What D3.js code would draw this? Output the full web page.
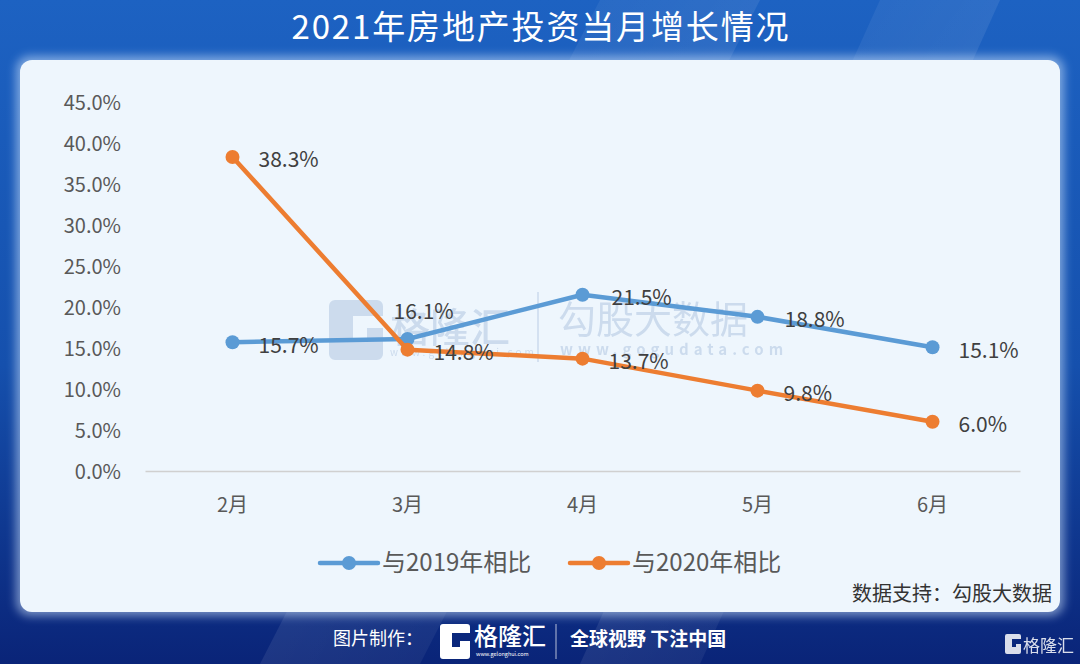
<!DOCTYPE html>
<html><head><meta charset="utf-8">
<script src="https://cdn.jsdelivr.net/npm/d3@7"></script>
<style>
html,body{margin:0;padding:0;background:#0d2f86;}
svg{display:block;font-family:"Noto Sans CJK SC","Noto Sans",sans-serif;}
</style></head>
<body>
<svg id="c" width="1080" height="664"></svg>
<script>
const titleText = "2021年房地产投资当月增长情况";
const categories = ["2月","3月","4月","5月","6月"];
const seriesNames = ["与2019年相比","与2020年相比"];
const values2019 = [15.7,16.1,21.5,18.8,15.1];
const values2020 = [38.3,14.8,13.7,9.8,6.0];
const yTicks = [0,5,10,15,20,25,30,35,40,45];
const sourceText = "数据支持：勾股大数据";

const colors = ["#5b9bd5","#ed7d31"];
// label placement per point: [dx, dy]
const labelOffsets = [
  [[26,3],[-14,-27],[29,3],[27,3],[26,3]],
  [[26,3],[26,3],[26,3],[26,3],[26,3]]
];

const svg = d3.select("#c");
const defs = svg.append("defs");
const bg = defs.append("linearGradient").attr("id","bg").attr("x1",0).attr("y1",0).attr("x2",0).attr("y2",1);
bg.append("stop").attr("offset","0%").attr("stop-color","#1d62c2");
bg.append("stop").attr("offset","55%").attr("stop-color","#1550ad");
bg.append("stop").attr("offset","100%").attr("stop-color","#0a2478");
const streak = defs.append("linearGradient").attr("id","streak").attr("x1",0).attr("y1",0).attr("x2",1).attr("y2",1);
streak.append("stop").attr("offset","0%").attr("stop-color","#ffffff").attr("stop-opacity",0);
streak.append("stop").attr("offset","50%").attr("stop-color","#ffffff").attr("stop-opacity",0.08);
streak.append("stop").attr("offset","100%").attr("stop-color","#ffffff").attr("stop-opacity",0);
const glow = defs.append("filter").attr("id","glow").attr("x","-5%").attr("y","-5%").attr("width","110%").attr("height","110%");
glow.append("feGaussianBlur").attr("stdDeviation",5);

svg.append("rect").attr("width",1080).attr("height",664).attr("fill","url(#bg)");
svg.append("path").attr("d","M600,0 L760,0 L420,664 L260,664 Z").attr("fill","url(#streak)");
svg.append("path").attr("d","M880,0 L1000,0 L700,664 L580,664 Z").attr("fill","url(#streak)");

// panel
svg.append("rect").attr("x",16).attr("y",56).attr("width",1048).attr("height",560).attr("rx",14)
  .attr("fill","#cfe3fb").attr("opacity",0.55).attr("filter","url(#glow)");
svg.append("rect").attr("x",20).attr("y",60).attr("width",1040).attr("height",552).attr("rx",12)
  .attr("fill","#eef6fd");

// title
svg.append("text").attr("x",540).attr("y",39).attr("text-anchor","middle")
  .attr("fill","#ffffff").attr("font-size",33).attr("font-weight",400)
  .attr("textLength",497).attr("lengthAdjust","spacing")
  .text(titleText);

// watermark
const wm = svg.append("g").attr("opacity",0.9);
const wc = "#c9d9ec";
wm.append("path").attr("fill",wc).attr("fill-rule","evenodd")
  .attr("d","M335,300 h42 a6,6 0 0 1 6,6 v10 h-30 v22 h14 v-10 h16 v26 a6,6 0 0 1 -6,6 h-42 a6,6 0 0 1 -6,-6 v-48 a6,6 0 0 1 6,-6 z");
wm.append("text").attr("x",390).attr("y",342).attr("fill",wc).attr("font-size",40).attr("font-weight",500).text("格隆汇");
wm.append("text").attr("x",390).attr("y",356).attr("fill",wc).attr("font-size",10).attr("letter-spacing",3).text("www.gelonghui.com");
wm.append("line").attr("x1",538).attr("x2",538).attr("y1",292).attr("y2",362).attr("stroke",wc).attr("stroke-width",1.5);
wm.append("text").attr("x",558).attr("y",333).attr("fill",wc).attr("font-size",38).text("勾股大数据");
wm.append("text").attr("x",560).attr("y",355).attr("fill",wc).attr("font-size",15).attr("font-weight",700).attr("letter-spacing",5).text("www.gogudata.com");

// scales
const x = d3.scaleBand().domain(categories).range([145,1020]);
const y = d3.scaleLinear().domain([0,45]).range([471,102]);
const cx = d => x(d) + x.bandwidth()/2;

// y axis labels
const yAxis = d3.axisLeft(y).tickValues(yTicks).tickSize(0).tickPadding(0).tickFormat(d => d.toFixed(1)+"%");
const gy = svg.append("g").attr("transform","translate(121,0)").call(yAxis);
gy.select(".domain").remove();
gy.selectAll("text").attr("fill","#595959").attr("font-size",20).attr("font-family","Noto Sans CJK SC").attr("dy","0.35em");

// x axis
const xAxis = d3.axisBottom(x).tickSize(0).tickPadding(23);
const gx = svg.append("g").attr("transform","translate(0,471)").call(xAxis);
gx.select(".domain").attr("stroke","#d0d0d0").attr("stroke-width",1.5);
gx.selectAll("text").attr("fill","#595959").attr("font-size",20).attr("font-family","Noto Sans CJK SC").attr("dy","0.9em");

// series
const allSeries = [values2019, values2020];
const line = d3.line().x((d,i) => cx(categories[i])).y(d => y(d));
allSeries.forEach((vals,si) => {
  const g = svg.append("g");
  g.append("path").datum(vals).attr("d",line).attr("fill","none")
    .attr("stroke",colors[si]).attr("stroke-width",4.5).attr("stroke-linejoin","round").attr("stroke-linecap","round");
  g.selectAll("circle").data(vals).join("circle")
    .attr("cx",(d,i)=>cx(categories[i])).attr("cy",d=>y(d)).attr("r",7).attr("fill",colors[si]);
});
allSeries.forEach((vals,si) => {
  svg.append("g").selectAll("text").data(vals).join("text")
    .attr("x",(d,i)=>cx(categories[i]) + labelOffsets[si][i][0])
    .attr("y",(d,i)=>y(d) + labelOffsets[si][i][1])
    .attr("dy","0.35em").attr("fill","#404040").attr("font-size",21)
    .text(d=>d.toFixed(1)+"%");
});

// legend
const legendX = [320,570];
seriesNames.forEach((n,i) => {
  const g = svg.append("g").attr("transform",`translate(${legendX[i]},563)`);
  g.append("line").attr("x1",0).attr("x2",58).attr("stroke",colors[i]).attr("stroke-width",4.5).attr("stroke-linecap","round");
  g.append("circle").attr("cx",29).attr("r",7).attr("fill",colors[i]);
  g.append("text").attr("x",62).attr("dy","0.35em").attr("fill","#595959").attr("font-size",24).text(n);
});

// source
svg.append("text").attr("x",1052).attr("y",594).attr("dy","0.35em").attr("text-anchor","end")
  .attr("fill","#333333").attr("font-size",20).text(sourceText);

// footer
const ft = svg.append("g");
ft.append("text").attr("x",333).attr("y",639).attr("dy","0.35em").attr("fill","#ffffff").attr("font-size",18).text("图片制作：");
ft.append("path").attr("fill","#ffffff")
  .attr("d","M443,624 h24 a3,3 0 0 1 3,3 v6 h-18 v14 h8 v-6 h10 v15 a3,3 0 0 1 -3,3 h-24 a3,3 0 0 1 -3,-3 v-29 a3,3 0 0 1 3,-3 z");
ft.append("text").attr("x",474).attr("y",645).attr("fill","#ffffff").attr("font-size",24).attr("font-weight",500).text("格隆汇");
ft.append("text").attr("x",476).attr("y",656).attr("fill","#ffffff").attr("font-size",5.5).text("www.gelonghui.com");
ft.append("line").attr("x1",556).attr("x2",556).attr("y1",624).attr("y2",659).attr("stroke","#ffffff").attr("stroke-opacity",0.7);
ft.append("text").attr("x",570).attr("y",639).attr("dy","0.35em").attr("fill","#ffffff").attr("font-size",19).attr("font-weight",700).text("全球视野 下注中国");
ft.append("path").attr("fill","#ffffff").attr("opacity",0.85)
  .attr("d","M1007,634 h12 a2,2 0 0 1 2,2 v3 h-9 v8 h4 v-3 h5 v8 a2,2 0 0 1 -2,2 h-12 a2,2 0 0 1 -2,-2 v-16 a2,2 0 0 1 2,-2 z");
ft.append("text").attr("x",1023).attr("y",652).attr("fill","#ffffff").attr("opacity",0.85).attr("font-size",17).text("格隆汇");
</script>
</body></html>
